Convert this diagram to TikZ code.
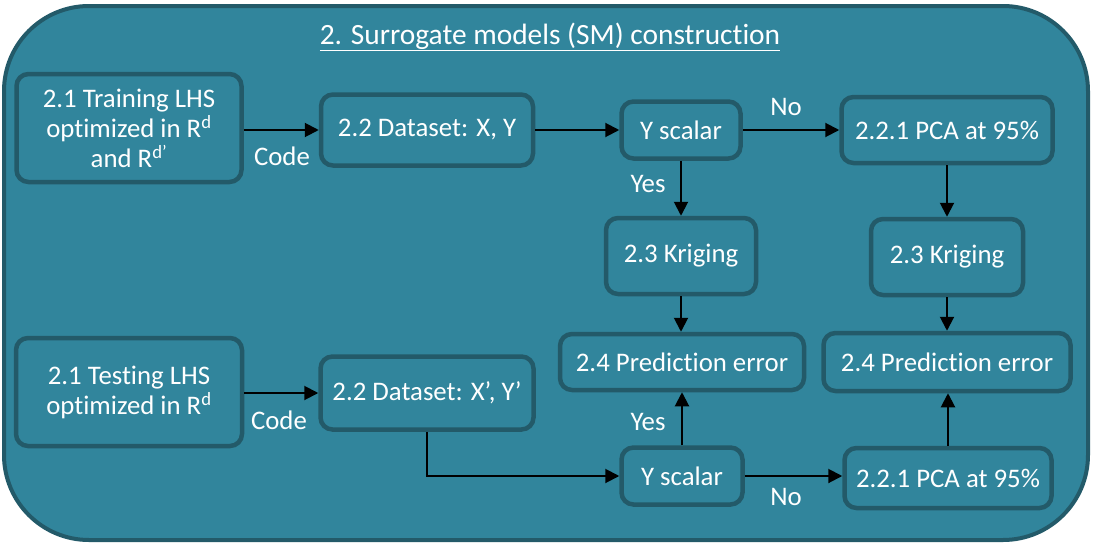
\documentclass[tikz,border=0pt]{standalone}
\usepackage{fontspec}
\setmainfont{Carlito}[Ligatures=NoCommon]
\usetikzlibrary{arrows.meta,calc}
\definecolor{tealfill}{HTML}{31859C}
\definecolor{tealline}{HTML}{235A69}
\begin{document}
\begin{tikzpicture}[x=1pt,y=-1pt,
  box/.style={draw=tealline,line width=4.5pt,fill=tealfill,rounded corners=12pt,
    text=white,align=center,inner sep=0pt,font=\fontsize{26.8}{30}\selectfont},
  lbl/.style={text=white,inner sep=0pt,font=\fontsize{26.8}{30}\selectfont},
  arr/.style={line width=2pt,-{Triangle[length=14pt,width=14pt]}}]
\useasboundingbox (0,0) rectangle (1096,544);
\fill[white] (0,0) rectangle (1096,544);
\draw[draw=tealline,line width=4pt,fill=tealfill,rounded corners=85pt] (4,6) rectangle (1088,540);
\node[text=white,inner sep=0pt,font=\fontsize{29.4}{34}\selectfont] (title) at (550,37) {\underline{2. Surrogate models (SM) construction}};

\node[box,minimum width=225pt,minimum height=108pt] (train) at (129,128) {2.1 Training LHS\\optimized in R\textsuperscript{d}\\and R\textsuperscript{d’}};
\node[box,minimum width=212pt,minimum height=71pt] (data1) at (427,130) {2.2 Dataset: X, Y};
\node[box,minimum width=119pt,minimum height=57pt] (ys1) at (681,130) {Y scalar};
\node[box,minimum width=211pt,minimum height=66pt] (pca1) at (947,130) {2.2.1 PCA at 95\%};
\node[box,minimum width=150pt,minimum height=76pt] (kr1) at (681,256) {2.3 Kriging};
\node[box,minimum width=152pt,minimum height=76pt] (kr2) at (947,257) {2.3 Kriging};
\node[box,minimum width=244pt,minimum height=56pt] (pe1) at (682,362) {2.4 Prediction error};
\node[box,minimum width=247pt,minimum height=58pt] (pe2) at (947,362) {2.4 Prediction error};

\node[box,minimum width=226pt,minimum height=108pt] (test) at (129,392) {2.1 Testing LHS\\optimized in R\textsuperscript{d}};
\node[box,minimum width=213pt,minimum height=73pt] (data2) at (427,393) {2.2 Dataset: X’, Y’};
\node[box,minimum width=121pt,minimum height=57pt] (ys2) at (682,476) {Y scalar};
\node[box,minimum width=207pt,minimum height=60pt] (pca2) at (948,478) {2.2.1 PCA at 95\%};

\node[lbl] (code1) at (282,156) {Code};
\node[lbl] (code2) at (279,420) {Code};
\node[lbl] (no1) at (786,107) {No};
\node[lbl] (no2) at (786,497) {No};
\node[lbl] (yes1) at (648,184) {Yes};
\node[lbl] (yes2) at (648,422) {Yes};

\draw[arr] (train.east |- data1.west) -- (data1.west);
\draw[arr] (data1.east) -- (ys1.west);
\draw[arr] (ys1.east) -- (pca1.west);
\draw[arr] (ys1.south) -- (kr1.north);
\draw[arr] (pca1.south) -- (kr2.north);
\draw[arr] (kr1.south) -- (pe1.north -| kr1.south);
\draw[arr] (kr2.south) -- (pe2.north -| kr2.south);
\draw[arr] (test.east |- data2.west) -- (data2.west);
\draw[arr] (data2.south) |- (ys2.west);
\draw[arr] (ys2.north) -- (pe1.south -| ys2.north);
\draw[arr] (ys2.east) -- (pca2.west |- ys2.east);
\draw[arr] (pca2.north) -- (pe2.south -| pca2.north);
\end{tikzpicture}
\end{document}
